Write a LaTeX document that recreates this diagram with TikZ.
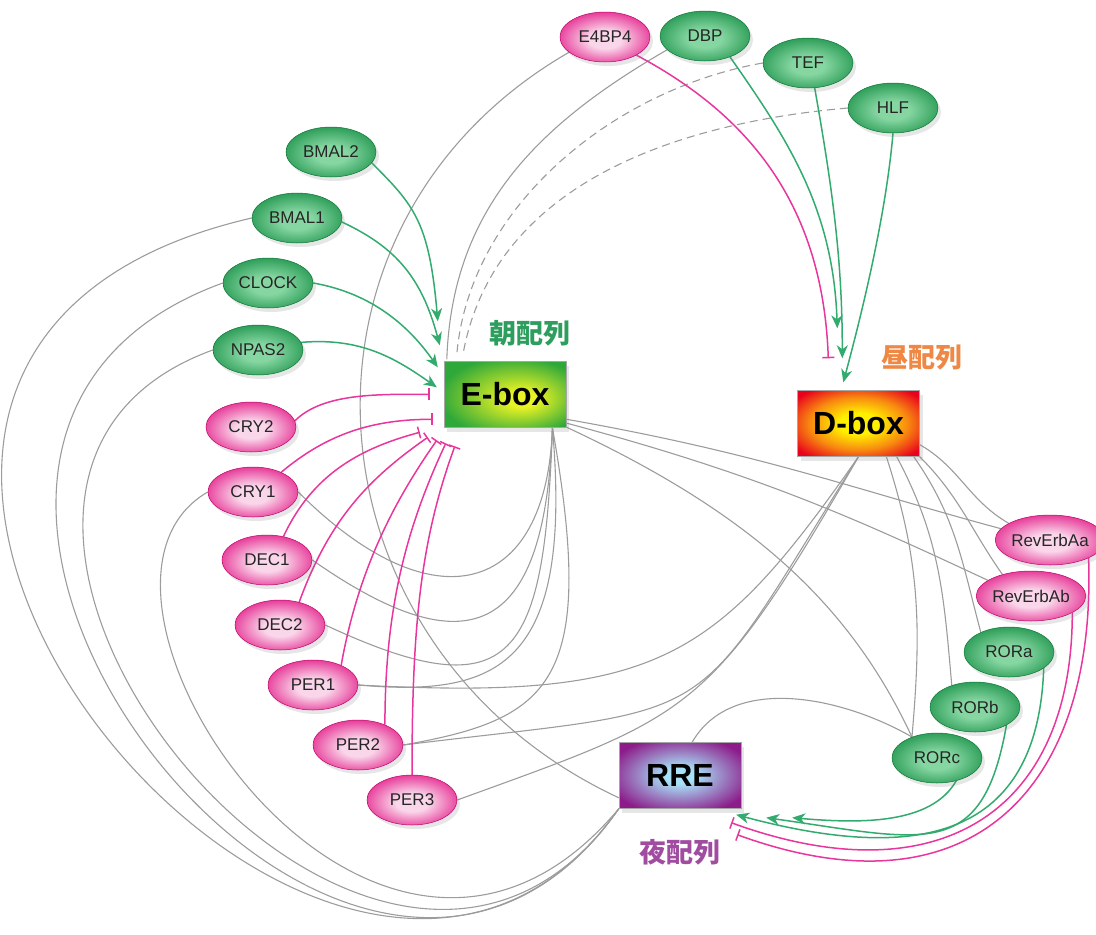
\documentclass[tikz,border=0pt]{standalone}
\usepackage{fontspec}
\setmainfont{Liberation Sans}
\newfontfamily\jpfont{Noto Sans CJK JP}
\usetikzlibrary{positioning,shapes.geometric,arrows.meta,shadows,backgrounds}

\definecolor{actgreen}{HTML}{33AA6E}
\definecolor{inhpink}{HTML}{E8369C}
\definecolor{linkgray}{HTML}{9C9C9C}
\definecolor{clkdark}{HTML}{0E8A3E}
\definecolor{clklight}{HTML}{86D6A2}
\definecolor{repdark}{HTML}{E0047C}
\definecolor{replight}{HTML}{FAD6EA}
\definecolor{egreen}{HTML}{2FA83A}
\definecolor{eyellow}{HTML}{E8F224}
\definecolor{dred}{HTML}{E8001C}
\definecolor{dorange}{HTML}{F88A10}
\definecolor{dyellow}{HTML}{FFF000}
\definecolor{rpurple}{HTML}{8C1C8A}
\definecolor{rblue}{HTML}{A8E2F8}
\definecolor{asagreen}{HTML}{2E9E5E}
\definecolor{hiruorange}{HTML}{EE8844}
\definecolor{yorupurple}{HTML}{A04CA0}

\pgfdeclareradialshading{clkglow}{\pgfpoint{0bp}{-3bp}}{color(0bp)=(clklight); color(9bp)=(clklight); color(33bp)=(clkdark); color(50bp)=(clkdark)}
\pgfdeclareradialshading{repglow}{\pgfpoint{0bp}{-3bp}}{color(0bp)=(replight); color(9bp)=(replight); color(33bp)=(repdark); color(50bp)=(repdark)}
\pgfdeclareradialshading{eglow}{\pgfpoint{8bp}{-4bp}}{color(0bp)=(eyellow); color(6bp)=(eyellow); color(30bp)=(egreen); color(50bp)=(egreen)}
\pgfdeclareradialshading{dglow}{\pgfpoint{0bp}{0bp}}{color(0bp)=(dyellow); color(8bp)=(dyellow); color(20bp)=(dorange); color(32bp)=(dred); color(50bp)=(dred)}
\pgfdeclareradialshading{rglow}{\pgfpoint{0bp}{0bp}}{color(0bp)=(rblue); color(6bp)=(rblue); color(30bp)=(rpurple); color(50bp)=(rpurple)}

\begin{document}
\begin{tikzpicture}[x=1pt,y=1pt,
		gene/.style={ellipse,minimum width=90pt,minimum height=50pt,inner sep=0pt,
			font=\fontsize{17}{19}\selectfont,text=black!85,line width=0.5pt,
			drop shadow={shadow xshift=3pt,shadow yshift=-4pt,opacity=0.2}},
		clk/.style={gene,draw=clkdark!85!black,shading=clkglow},
		rep/.style={gene,draw=repdark!85!black,shading=repglow},
		elem/.style={rectangle,minimum width=122pt,minimum height=66pt,draw=black!35,
			font=\bfseries\fontsize{32}{36}\selectfont,
			drop shadow={shadow xshift=3pt,shadow yshift=-4pt,opacity=0.2}},
		seqlabel/.style={font=\jpfont\bfseries\fontsize{27}{30}\selectfont},
		act/.style={draw=actgreen,line width=1.5pt,-{Stealth[length=13pt,width=11pt,inset=4pt]}},
		inh/.style={draw=inhpink,line width=1.5pt,-{Bar[width=12pt]}},
		link/.style={draw=linkgray,line width=1.1pt},
		weak/.style={link,dash pattern=on 8pt off 5pt}]
	\useasboundingbox (0,0) rectangle (1096,-935);

	\node[rep] (e4bp4) at (605,-37) {E4BP4};
	\node[clk] (dbp) at (705,-36) {DBP};
	\node[clk] (tef) at (808,-63) {TEF};
	\node[clk] (hlf) at (893,-108) {HLF};
	\node[clk] (bmal2) at (331,-152) {BMAL2};
	\node[clk] (bmal1) at (297,-218) {BMAL1};
	\node[clk] (clock) at (268,-283) {CLOCK};
	\node[clk] (npas2) at (258,-350) {NPAS2};
	\node[rep] (cry2) at (251,-427) {CRY2};
	\node[rep] (cry1) at (253,-492) {CRY1};
	\node[rep] (dec1) at (267,-560) {DEC1};
	\node[rep] (dec2) at (280,-625) {DEC2};
	\node[rep] (per1) at (313,-685) {PER1};
	\node[rep] (per2) at (358,-745) {PER2};
	\node[rep] (per3) at (412,-800) {PER3};
	\node[rep] (reva) at (1050,-540) {RevErbAa};
	\node[rep] (revb) at (1031,-596) {RevErbAb};
	\node[clk] (rora) at (1009,-652) {RORa};
	\node[clk] (rorb) at (975,-707) {RORb};
	\node[clk] (rorc) at (937,-758) {RORc};

	\node[elem,shading=eglow] (ebox) at (505,-394.5) {E-box};
	\node[elem,shading=dglow] (dbox) at (858.5,-423.5) {D-box};
	\node[elem,shading=rglow] (rre) at (680,-775.5) {RRE};

	\node[seqlabel,text=asagreen] (asa) at (530,-333) {朝配列};
	\node[seqlabel,text=hiruorange] (hiru) at (922,-358) {昼配列};
	\node[seqlabel,text=yorupurple] (yoru) at (680,-852) {夜配列};

	\coordinate (eA) at ([shift={(-6,40)}]ebox.north west);
	\coordinate (eB) at ([shift={(-4,16)}]ebox.north west);
	\coordinate (eC) at ([shift={(-6,-6)}]ebox.north west);
	\coordinate (eD) at ([shift={(-7,-26)}]ebox.north west);
	\coordinate (eT1) at ([shift={(-14,-33)}]ebox.north west);
	\coordinate (eT2) at ([shift={(-11,-58)}]ebox.north west);
	\coordinate (eT3) at ([shift={(-24,-71)}]ebox.north west);
	\coordinate (eT4) at ([shift={(-16,-76)}]ebox.north west);
	\coordinate (eT5) at ([shift={(-7,-79)}]ebox.north west);
	\coordinate (eT6) at ([shift={(2,-82)}]ebox.north west);
	\coordinate (eT7) at ([shift={(11,-85)}]ebox.north west);
	\coordinate (eDbp) at ([shift={(3,2)}]ebox.north west);
	\coordinate (eTef) at ([shift={(13,7)}]ebox.north west);
	\coordinate (eHlf) at ([shift={(19,6)}]ebox.north west);
	\coordinate (dA) at ([shift={(40,62)}]dbox.north west);
	\coordinate (dB) at ([shift={(45,32)}]dbox.north west);
	\coordinate (dC) at ([shift={(46,8)}]dbox.north west);
	\coordinate (dT) at ([shift={(31,32)}]dbox.north west);
	\coordinate (rA) at ([shift={(-5,-6)}]rre.south east);
	\coordinate (rB) at ([shift={(25,-9)}]rre.south east);
	\coordinate (rC) at ([shift={(51,-9)}]rre.south east);
	\coordinate (rT1) at ([shift={(-10,-14)}]rre.south east);
	\coordinate (rT2) at ([shift={(-4,-26)}]rre.south east);

	\begin{scope}[on background layer]
		\draw[link] (e4bp4.203) .. controls +(210:350) and +(155:350) .. (rre.200);
		\draw[link] (dbp.200) .. controls +(210:150) and +(88:150) .. (eDbp);
		\draw[weak] (tef.west) .. controls +(190:150) and +(85:150) .. (eTef);
		\draw[weak] (hlf.west) .. controls +(185:180) and +(80:170) .. (eHlf);
		\draw[link] (bmal1.west) .. controls +(193:640) and +(235:500) .. (rre.south west);
		\draw[link] (clock.west) .. controls +(200:480) and +(235:470) .. (rre.south west);
		\draw[link] (npas2.west) .. controls +(200:400) and +(235:430) .. (rre.south west);
		\draw[link] (cry1.west) .. controls +(210:200) and +(230:380) .. (rre.south west);
		\draw[link] (ebox.-35) .. controls +(-92:170) and +(-45:190) .. (cry1.east);
		\draw[link] (ebox.-35) .. controls +(-92:200) and +(-35:200) .. (dec1.east);
		\draw[link] (ebox.-35) .. controls +(-92:230) and +(-25:210) .. (dec2.east);
		\draw[link] (ebox.-35) .. controls +(-85:240) and +(-5:140) .. (per1.east);
		\draw[link] (ebox.-35) .. controls +(-80:260) and +(10:150) .. (per2.east);
		\draw[link] (ebox.-22) .. controls +(-10:200) and +(165:150) .. (reva.167);
		\draw[link] (ebox.-25) .. controls +(-15:200) and +(155:150) .. (revb.160);
		\draw[link] (ebox.-28) .. controls +(-25:200) and +(115:150) .. (rorc.140);
		\draw[link] (dbox.south) .. controls +(-125:250) and +(-3:300) .. (per1.east);
		\draw[link] (dbox.south) .. controls +(-122:330) and +(7:330) .. (per2.east);
		\draw[link] (dbox.south) .. controls +(-120:300) and +(20:250) .. (per3.east);
		\draw[link] (dbox.-19) to[out=-30,in=150] (reva.158);
		\draw[link] (dbox.south east) to[out=-45,in=125] (revb.143);
		\draw[link] (dbox.-31) to[out=-55,in=105] (rora.145);
		\draw[link] (dbox.-41) to[out=-62,in=95] (rorb.137);
		\draw[link] (dbox.-50) to[out=-72,in=85] (rorc.140);
		\draw[link] (rre.70) .. controls +(60:80) and +(150:80) .. (rorc.140);

		\draw[act] (bmal2.-15) .. controls +(-45:60) and +(95:100) .. (eA);
		\draw[act] (bmal1.-5) .. controls +(-25:60) and +(105:70) .. (eB);
		\draw[act] (clock.east) .. controls +(-10:60) and +(125:50) .. (eC);
		\draw[act] (npas2.10) .. controls +(5:60) and +(145:50) .. (eD);
		\draw[inh] (cry2.8) .. controls +(45:40) and +(180:50) .. (eT1);
		\draw[inh] (cry1.35) .. controls +(40:60) and +(180:60) .. (eT2);
		\draw[inh] (dec1.55) .. controls +(65:70) and +(195:60) .. (eT3);
		\draw[inh] (dec2.50) .. controls +(70:90) and +(215:70) .. (eT4);
		\draw[inh] (per1.35) .. controls +(80:100) and +(235:70) .. (eT5);
		\draw[inh] (per2.37) .. controls +(90:120) and +(245:90) .. (eT6);
		\draw[inh] (per3.north) .. controls +(90:150) and +(250:100) .. (eT7);

		\draw[act] (dbp.-40) .. controls +(-55:100) and +(92:120) .. (dA);
		\draw[act] (tef.-75) .. controls +(-80:100) and +(90:100) .. (dB);
		\draw[act] (hlf.south) .. controls +(-95:80) and +(75:80) .. (dC);
		\draw[inh] (e4bp4.-30) .. controls +(-28:120) and +(92:160) .. (dT);

		\draw[act] (rorc.-50) .. controls +(-120:50) and +(-5:70) .. (rC);
		\draw[act] (rorb.-30) .. controls +(-100:140) and +(-8:160) .. (rB);
		\draw[act] (rora.-25) .. controls +(-92:170) and +(-15:190) .. (rA);
		\draw[inh] (revb.-22) .. controls +(-90:200) and +(-20:220) .. (rT1);
		\draw[inh] (reva.-25) .. controls +(-88:230) and +(-20:250) .. (rT2);
	\end{scope}
\end{tikzpicture}
\end{document}
